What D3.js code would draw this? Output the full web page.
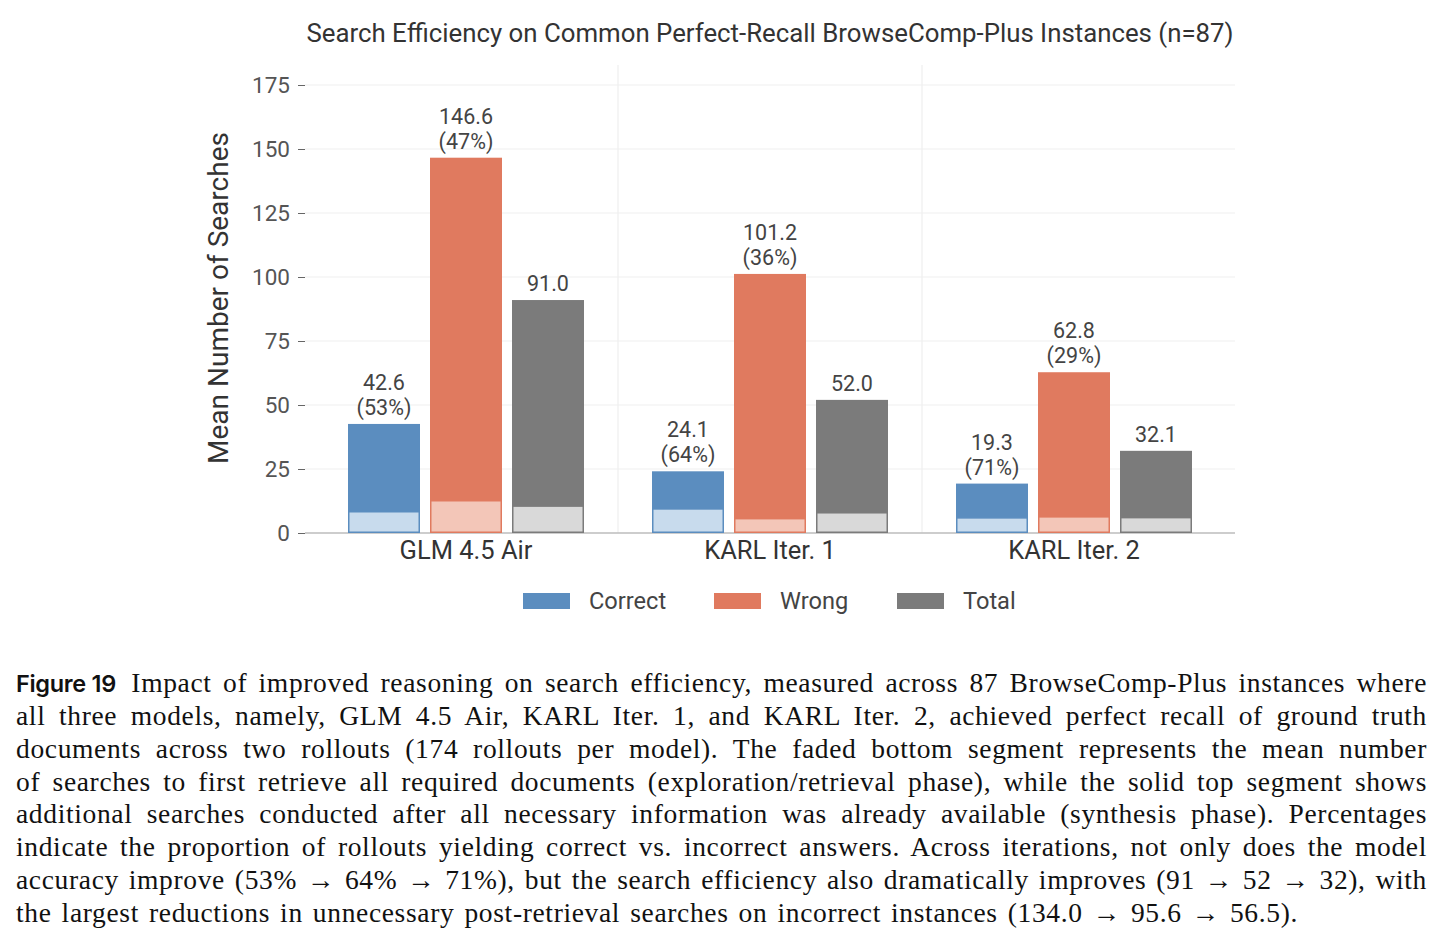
<!DOCTYPE html>
<html>
<head>
<meta charset="utf-8">
<script src="https://cdn.jsdelivr.net/npm/d3@7"></script>
<style>
  body { margin: 0; background: #fff; }
  #wrap { position: relative; width: 1443px; height: 943px; }
  #caption {
    position: absolute; left: 16px; top: 667px; width: 1411px;
    font-family: "Liberation Serif", serif; font-size: 27.5px; letter-spacing: 0.65px; color: #111;
  }
  #caption div { height: 32.86px; line-height: 32.86px; text-align: justify; text-align-last: justify; white-space: normal; }
  #caption div.last { width: 1282px; }
  #caption b { display: inline-block; font-family: "Inter", "Liberation Sans", sans-serif; font-weight: 600; font-size: 23.5px; letter-spacing: -0.3px; margin-right: 4px; white-space: nowrap; }
</style>
</head>
<body>
<div id="wrap">
  <svg id="chart" width="1443" height="650"></svg>
  <div id="caption"></div>
</div>
<script>
const models = ['GLM 4.5 Air', 'KARL Iter. 1', 'KARL Iter. 2'];
const series = ['Correct', 'Wrong', 'Total'];
const meanSearches = {
  Correct: [42.6, 24.1, 19.3],
  Wrong: [146.6, 101.2, 62.8],
  Total: [91.0, 52.0, 32.1]
};
// searches until all docs were retrieved (faded part)
const retrievalSearches = {
  Correct: [8.3, 9.4, 5.9],
  Wrong: [12.6, 5.6, 6.3],
  Total: [10.5, 7.9, 6.0]
};
const pctCorrect = [53, 64, 71];
const pctWrong = [47, 36, 29];
const yTicks = [0, 25, 50, 75, 100, 125, 150, 175];

const captionLines = [
  'Impact of improved reasoning on search efficiency, measured across 87 BrowseComp-Plus instances where',
  'all three models, namely, GLM 4.5 Air, KARL Iter. 1, and KARL Iter. 2, achieved perfect recall of ground truth',
  'documents across two rollouts (174 rollouts per model).  The faded bottom segment represents the mean number',
  'of searches to first retrieve all required documents (exploration/retrieval phase), while the solid top segment shows',
  'additional searches conducted after all necessary information was already available (synthesis phase).  Percentages',
  'indicate the proportion of rollouts yielding correct vs. incorrect answers.  Across iterations, not only does the model',
  'accuracy improve (53% → 64% → 71%), but the search efficiency also dramatically improves (91 → 52 → 32), with',
  'the largest reductions in unnecessary post-retrieval searches on incorrect instances (134.0 → 95.6 → 56.5).'
];

const colors = {Correct: '#5b8dbf', Wrong: '#e07a5f', Total: '#7b7b7b'};
const fadedColors = {Correct: '#c8dbed', Wrong: '#f3c6b8', Total: '#d9d9d9'};

const svg = d3.select('#chart');
const font = 'Roboto, "Noto Sans", sans-serif';

const x = d3.scaleBand().domain(models).range([314, 1226]);
const xs = d3.scaleBand().domain(series).range([34, 270]).paddingInner(10 / 82);
const y = d3.scaleLinear().domain([0, 175]).range([533, 85]);

const left = 305, right = 1235;

// gridlines
svg.append('g').selectAll('line').data(yTicks.slice(1)).join('line')
  .attr('x1', left).attr('x2', right)
  .attr('y1', d => y(d)).attr('y2', d => y(d))
  .attr('stroke', '#efefef').attr('stroke-width', 1.2);

svg.append('g').selectAll('line').data(models.slice(1)).join('line')
  .attr('x1', d => x(d)).attr('x2', d => x(d))
  .attr('y1', 65).attr('y2', y(0))
  .attr('stroke', '#efefef').attr('stroke-width', 1.2);

// y axis
const yAxis = svg.append('g')
  .attr('transform', `translate(${left},0)`)
  .call(d3.axisLeft(y).tickValues(yTicks).tickSize(7).tickPadding(8));
yAxis.select('.domain').remove();
yAxis.selectAll('.tick line').attr('stroke', '#666');
yAxis.selectAll('.tick text')
  .attr('font-family', font).attr('font-size', 22.5).attr('fill', '#555');

// baseline
svg.append('line')
  .attr('x1', left).attr('x2', right)
  .attr('y1', y(0)).attr('y2', y(0))
  .attr('stroke', '#bdbdbd').attr('stroke-width', 1.5);

// bars
const rows = [];
models.forEach((m, i) => {
  series.forEach(s => {
    rows.push({model: m, s, value: meanSearches[s][i], faded: retrievalSearches[s][i],
      pct: s === 'Correct' ? pctCorrect[i] : s === 'Wrong' ? pctWrong[i] : null});
  });
});

const bars = svg.append('g').selectAll('g').data(rows).join('g')
  .attr('transform', d => `translate(${x(d.model) + xs(d.s)},0)`);

bars.append('rect')
  .attr('x', 0).attr('width', xs.bandwidth())
  .attr('y', d => y(d.value))
  .attr('height', d => y(0) - y(d.value))
  .attr('fill', d => colors[d.s]);

bars.append('rect')
  .attr('x', 0.75).attr('width', xs.bandwidth() - 1.5)
  .attr('y', d => y(d.faded))
  .attr('height', d => y(0) - y(d.faded) - 0.75)
  .attr('fill', d => fadedColors[d.s])
  .attr('stroke', d => colors[d.s]).attr('stroke-width', 1.5);

// value labels
const lbl = bars.append('text')
  .attr('x', xs.bandwidth() / 2)
  .attr('text-anchor', 'middle')
  .attr('font-family', font).attr('font-size', 21.5).attr('fill', '#444');
lbl.filter(d => d.pct !== null).each(function(d) {
  const t = d3.select(this);
  t.append('tspan').attr('x', xs.bandwidth() / 2).attr('y', y(d.value) - 34).text(d.value.toFixed(1));
  t.append('tspan').attr('x', xs.bandwidth() / 2).attr('y', y(d.value) - 9).text(`(${d.pct}%)`);
});
lbl.filter(d => d.pct === null)
  .attr('y', d => y(d.value) - 9)
  .text(d => d.value.toFixed(1));

// x labels
svg.append('g').selectAll('text').data(models).join('text')
  .attr('x', d => x(d) + x.bandwidth() / 2)
  .attr('y', 559)
  .attr('text-anchor', 'middle')
  .attr('font-family', font).attr('font-size', 25.5).attr('fill', '#333')
  .text(d => d);

// title
svg.append('text')
  .attr('x', 770).attr('y', 42)
  .attr('text-anchor', 'middle')
  .attr('font-family', font).attr('font-size', 25.8).attr('fill', '#333')
  .text('Search Efficiency on Common Perfect-Recall BrowseComp-Plus Instances (n=87)');

// y label
svg.append('text')
  .attr('transform', 'translate(228,298) rotate(-90)')
  .attr('text-anchor', 'middle')
  .attr('font-family', font).attr('font-size', 28).attr('fill', '#333')
  .text('Mean Number of Searches');

// legend
const legendX = [523, 714, 897];
const leg = svg.append('g').selectAll('g').data(series).join('g')
  .attr('transform', (d, i) => `translate(${legendX[i]},593)`);
leg.append('rect').attr('width', 47).attr('height', 16).attr('fill', d => colors[d]);
leg.append('text')
  .attr('x', 66).attr('y', 16)
  .attr('font-family', font).attr('font-size', 23.6).attr('fill', '#444')
  .text(d => d);

// caption
const cap = d3.select('#caption');
captionLines.forEach((line, i) => {
  const div = cap.append('div').classed('last', i === captionLines.length - 1);
  if (i === 0) div.append('b').text('Figure 19');
  div.append('span').text((i === 0 ? ' ' : '') + line);
});
</script>
</body>
</html>
